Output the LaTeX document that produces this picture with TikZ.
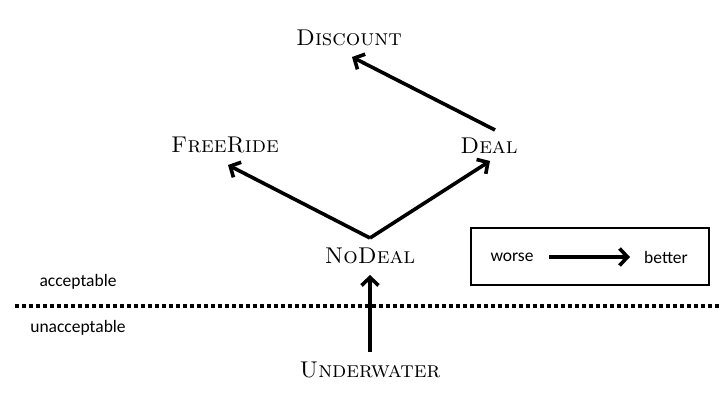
\documentclass[tikz,border=0pt]{standalone}
\usepackage{fontspec}
\newfontfamily\labelfont{Carlito}
\usetikzlibrary{arrows.meta}
\begin{document}
\begin{tikzpicture}[x=1pt,y=-1pt,
  state/.style={font=\fontsize{22.8}{26}\selectfont\scshape, inner sep=0pt},
  note/.style={font=\labelfont\fontsize{17.5}{20}\selectfont, inner sep=0pt},
  pref/.style={line width=3.6pt, -{Straight Barb[length=8pt,width=17pt,line width=3.6pt]}},
]
\useasboundingbox (0,0) rectangle (721,404);
\node[state] (discount) at (349,38) {Discount};
\node[state] (freeride) at (225,145) {FreeRide};
\node[state] (deal) at (489,146) {Deal};
\node[state] (nodeal) at (370,256) {NoDeal};
\node[state] (under) at (370,370) {Underwater};
\coordinate (split) at (370,238);
\coordinate (dealtail) at (495,130);
\coordinate (undertail) at (370,352);
\draw[pref] (dealtail) -- (352,57);
\draw[pref] (split) -- (228,165);
\draw[pref] (split) -- (490,161);
\draw[pref] (undertail) -- (370,275);
\draw[line width=3.5pt, dash pattern=on 3.5pt off 3.5pt] (15,306) -- (721,306);
\node[note] (acc) at (78,282) {acceptable};
\node[note] (unacc) at (78,328) {unacceptable};
\draw[line width=1.5pt] (471,228) rectangle (709,285);
\node[note] (worse) at (512,257) {worse};
\node[note] (better) at (666,257) {better};
\coordinate (wtail) at (549,257);
\coordinate (bhead) at (630,257);
\draw[pref] (wtail) -- (bhead);
\end{tikzpicture}
\end{document}
